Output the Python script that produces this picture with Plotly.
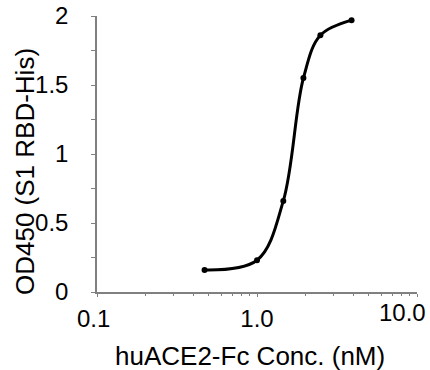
import plotly.graph_objects as go

conc_nM = [0.47, 1.0, 1.46, 1.95, 2.49, 3.9]
od450 = [0.16, 0.23, 0.66, 1.55, 1.86, 1.97]

x_tickvals = [0.1, 1.0, 10.0]
x_ticktext = ["0.1", "1.0", "10.0"]
y_tickvals = [0, 0.5, 1, 1.5, 2]
y_ticktext = ["0", "0.5", "1", "1.5", "2"]

FONT = "Liberation Sans, Arial, sans-serif"
AXIS_COL = "#808080"

fig = go.Figure()
fig.add_trace(go.Scatter(
    x=conc_nM, y=od450, mode="lines+markers",
    line=dict(color="black", width=3, shape="spline", smoothing=1.0),
    marker=dict(color="black", size=6),
    showlegend=False,
    cliponaxis=False,
    hoverinfo="skip",
))

# first two tick labels drawn by the axis; the last one (at the axis end) is
# drawn as an annotation nudged left so it stays inside the picture
axis_ticktext = [x_ticktext[0] + "\u00a0", x_ticktext[1], ""]

fig.update_layout(
    width=430, height=370,
    margin=dict(l=97, r=13, t=16, b=78, autoexpand=False),
    paper_bgcolor="white", plot_bgcolor="white",
    font=dict(family=FONT, color="black", size=24),
    xaxis=dict(
        type="log", range=[-1, 1], automargin=False,
        tickvals=x_tickvals, ticktext=axis_ticktext,
        ticks="outside", ticklen=3, tickwidth=1, tickcolor=AXIS_COL,
        minor=dict(ticks="outside", ticklen=2, tickcolor=AXIS_COL, dtick="D1", showgrid=False),
        showline=True, linecolor=AXIS_COL, linewidth=1.5,
        showgrid=False, zeroline=False,
        tickfont=dict(size=24), ticklabelstandoff=1, ticklabeloverflow="allow",
    ),
    yaxis=dict(
        range=[0, 2], automargin=False,
        tickvals=y_tickvals, ticktext=y_ticktext,
        ticks="outside", ticklen=4, tickwidth=1, tickcolor=AXIS_COL,
        minor=dict(ticks="outside", ticklen=4, tickcolor=AXIS_COL, dtick=0.25, showgrid=False),
        showline=True, linecolor=AXIS_COL, linewidth=1.5,
        showgrid=False, zeroline=False,
        tickfont=dict(size=24), ticklabelstandoff=18, ticklabeloverflow="allow",
    ),
    annotations=[
        dict(text=x_ticktext[2], xref="x", yref="paper",
             x=1, y=0, xanchor="right", yanchor="top", xshift=11, yshift=-5,
             showarrow=False, font=dict(size=24)),
        dict(text="OD450 (S1 RBD-His)", textangle=-90, xref="paper", yref="paper",
             x=(25 - 97) / 320, y=(292 - 172) / 276, xanchor="center", yanchor="middle",
             showarrow=False, font=dict(size=26)),
        dict(text="huACE2-Fc Conc. (nM)", xref="paper", yref="paper",
             x=(249.5 - 97) / 320, y=(292 - 356) / 276, xanchor="center", yanchor="middle",
             showarrow=False, font=dict(size=26)),
    ],
)

fig.write_html(
    "out.html",
    config={"displayModeBar": False},
    post_script="document.body.style.margin='0';document.body.style.overflow='hidden';",
)
